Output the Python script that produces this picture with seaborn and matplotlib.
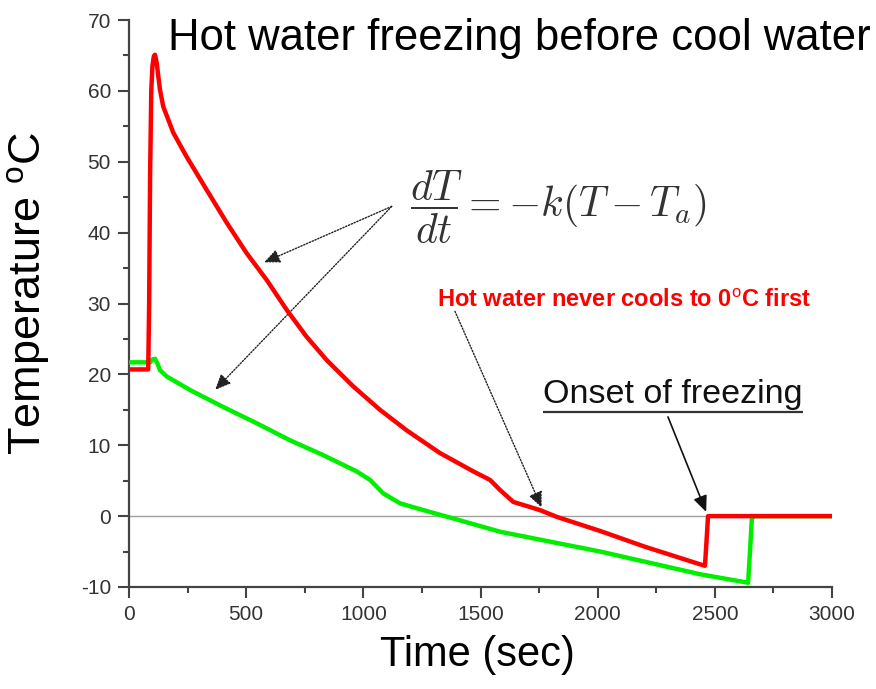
import matplotlib
matplotlib.use("Agg")
import numpy as np
import pandas as pd
import matplotlib.pyplot as plt
import seaborn as sns
from matplotlib.ticker import MultipleLocator

# ---- data ----
red_t = [0, 82, 86, 90, 95, 100, 106, 111, 118, 132, 146, 189, 246, 332, 417, 502,
         588, 673, 758, 844, 957, 1071, 1185, 1327, 1470, 1541, 1583, 1640, 1700,
         1754, 1825, 2011, 2200, 2437, 2458, 2471, 2600, 2800, 3000]
red_T = [20.7, 20.7, 30, 48, 60, 63.5, 64.9, 65.1, 64, 60.2, 57.8, 54.1, 50.7, 46.0,
         41.4, 37.1, 33.3, 29.1, 25.3, 22.0, 18.3, 15.0, 12.1, 8.9, 6.3, 5.1, 3.7,
         2.0, 1.4, 0.85, -0.1, -2.1, -4.3, -6.8, -7.0, 0.0, 0.0, 0.0, 0.0]

green_t = [0, 90, 100, 111, 122, 132, 161, 260, 402, 545, 687, 829, 972, 1029,
           1085, 1157, 1256, 1413, 1583, 2011, 2437, 2642, 2650, 2658, 2670, 2800,
           3000]
green_T = [21.7, 21.7, 22.1, 22.2, 21.5, 20.6, 19.7, 17.8, 15.4, 13.1, 10.7, 8.6,
           6.3, 5.1, 3.2, 1.8, 0.85, -0.6, -2.2, -5.0, -8.2, -9.4, -5.0, -0.3,
           0.0, 0.0, 0.0]

x_ticks = [0, 500, 1000, 1500, 2000, 2500, 3000]
y_ticks = [-10, 0, 10, 20, 30, 40, 50, 60, 70]

title_text = "Hot water freezing before cool water"
eq_text = r"$\dfrac{dT}{dt} = -k(T - T_a)$"
red_note = r"Hot water never cools to 0$^{\mathrm{o}}$C first"
onset_note = "Onset of freezing"

red_df = pd.DataFrame({"t": red_t, "T": red_T})
green_df = pd.DataFrame({"t": green_t, "T": green_T})

sns.set_theme(style="white")
plt.rcParams["font.family"] = ["Liberation Sans", "DejaVu Sans"]
plt.rcParams["axes.unicode_minus"] = False
plt.rcParams["mathtext.fontset"] = "custom"
plt.rcParams["mathtext.rm"] = "Liberation Sans"
plt.rcParams["mathtext.it"] = "Liberation Sans:italic"
plt.rcParams["mathtext.bf"] = "Liberation Sans:bold"

fig = plt.figure(figsize=(8.76, 6.89), dpi=100)
ax = fig.add_axes([129 / 876, 1 - 587 / 689, 703 / 876, 567 / 689])

ax.axhline(0, color="#a0a0a0", lw=1.0, zorder=1)
sns.lineplot(data=green_df, x="t", y="T", sort=False, estimator=None,
             color="#00ee00", lw=3.2, ax=ax, zorder=3,
             solid_joinstyle="round", solid_capstyle="round")
sns.lineplot(data=red_df, x="t", y="T", sort=False, estimator=None,
             color="#ff0000", lw=3.2, ax=ax, zorder=4,
             solid_joinstyle="round", solid_capstyle="round")

ax.set_xlim(0, 3000)
ax.set_ylim(-10, 70)
ax.set_xticks(x_ticks)
ax.set_yticks(y_ticks)
ax.xaxis.set_minor_locator(MultipleLocator(250))
ax.yaxis.set_minor_locator(MultipleLocator(5))

for s in ["top", "right"]:
    ax.spines[s].set_visible(False)
for s in ["left", "bottom"]:
    ax.spines[s].set_color("#444444")
    ax.spines[s].set_linewidth(1.6)

ax.tick_params(which="major", direction="out", length=8, width=1.5,
               color="#444444", labelsize=15, labelcolor="#333333", pad=5,
               left=True, bottom=True)
ax.tick_params(which="minor", direction="out", length=4.5, width=1.5,
               color="#444444", left=True, bottom=True)

ax.set_xlabel("Time (sec)", fontsize=30, color="black")
ax.set_ylabel(r"Temperature $^{\mathrm{o}}$C", fontsize=32.5, color="black")
ax.xaxis.set_label_coords(0.495, -0.085)
ax.yaxis.set_label_coords(-0.11, 0.518)

fig.text(168 / 876, 1 - 50 / 689, title_text, fontsize=31.4, ha="left",
         va="baseline", color="black")

ax.text(1833, 43.6, eq_text, math_fontfamily="cm", fontsize=30, ha="center",
        va="center", color="#333333")

ax.text(1314, 29.5, red_note, family=["Liberation Sans Narrow", "Liberation Sans"],
        fontweight="bold", fontsize=17, color="#ff0000", ha="left", va="baseline")

onset = ax.text(1767, 16.0, onset_note, fontsize=24.5, color="#111111",
                ha="left", va="baseline")

dotted = dict(arrowstyle="-|>,head_length=0.8,head_width=0.35",
              linestyle=(0, (1, 1.2)), lw=1.0, color="#222222",
              shrinkA=0, shrinkB=0)
ax.annotate("", xy=(576, 35.8), xytext=(1121, 43.7), arrowprops=dotted)
ax.annotate("", xy=(367, 17.8), xytext=(1121, 43.7), arrowprops=dotted)
ax.annotate("", xy=(1761, 1.2), xytext=(1391, 28.9), arrowprops=dotted)
ax.annotate("", xy=(2463, 0.6), xytext=(2300, 14.0),
            arrowprops=dict(arrowstyle="-|>,head_length=0.8,head_width=0.35",
                            lw=1.2, color="#111111", shrinkA=0, shrinkB=0))

# underline under "Onset of freezing"
fig.canvas.draw()
bb = onset.get_window_extent().transformed(ax.transData.inverted())
ax.plot([bb.x0, bb.x1], [14.7, 14.7], color="#333333", lw=1.6,
        solid_capstyle="butt")

fig.savefig("out.png", dpi=100)
